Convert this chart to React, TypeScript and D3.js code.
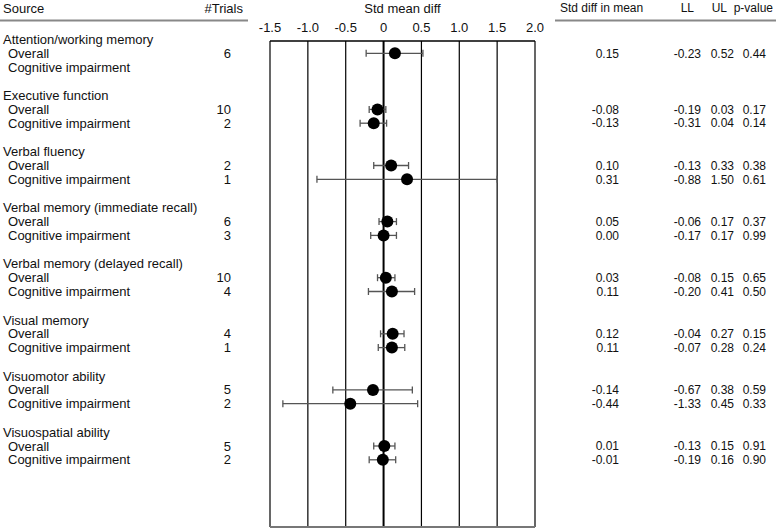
import React from "react";
import * as d3 from "d3";

const groups = [
  "Attention/working memory",
  "Executive function",
  "Verbal fluency",
  "Verbal memory (immediate recall)",
  "Verbal memory (delayed recall)",
  "Visual memory",
  "Visuomotor ability",
  "Visuospatial ability",
];
const subgroups = ["Overall", "Cognitive impairment"];

// per group: [Overall, Cognitive impairment]; null = no data
const trials: (number | null)[][] = [
  [6, null], [10, 2], [2, 1], [6, 3], [10, 4], [4, 1], [5, 2], [5, 2],
];
const smd: (number | null)[][] = [
  [0.15, null], [-0.08, -0.13], [0.10, 0.31], [0.05, 0.00],
  [0.03, 0.11], [0.12, 0.11], [-0.14, -0.44], [0.01, -0.01],
];
const lower: (number | null)[][] = [
  [-0.23, null], [-0.19, -0.31], [-0.13, -0.88], [-0.06, -0.17],
  [-0.08, -0.20], [-0.04, -0.07], [-0.67, -1.33], [-0.13, -0.19],
];
const upper: (number | null)[][] = [
  [0.52, null], [0.03, 0.04], [0.33, 1.50], [0.17, 0.17],
  [0.15, 0.41], [0.27, 0.28], [0.38, 0.45], [0.15, 0.16],
];
const pValues: (number | null)[][] = [
  [0.44, null], [0.17, 0.14], [0.38, 0.61], [0.37, 0.99],
  [0.65, 0.50], [0.15, 0.24], [0.59, 0.33], [0.91, 0.90],
];
const xTicks = [-1.5, -1.0, -0.5, 0, 0.5, 1.0, 1.5, 2.0];
const xTickLabels = ["-1.5", "-1.0", "-0.5", "0", "0.5", "1.0", "1.5", "2.0"];

const W = 776;
const H = 528;
const FONT = "Liberation Sans, Arial, sans-serif";
const FS = 13;
const FSR = 12;

export default function App() {
  const x = d3.scaleLinear().domain([-1.5, 2]).range([270, 535]);
  const gY = d3.scaleLinear().domain([0, 7]).range([53.3, 53.3 + 7 * 56.1]);
  const sub = 13.8;
  const axisY = 41;
  const bottomY = 527;
  const fmt = (v: number) => v.toFixed(2);

  const rows: React.ReactNode[] = [];
  groups.forEach((g, gi) => {
    const y0 = gY(gi);
    rows.push(
      <text key={"g" + gi} x={3} y={y0 - sub} dy="0.35em" fontSize={FS}>
        {g}
      </text>
    );
    subgroups.forEach((s, si) => {
      const y = y0 + si * sub;
      rows.push(
        <text key={`s${gi}-${si}`} x={8} y={y} dy="0.35em" fontSize={FS}>
          {s}
        </text>
      );
      const t = trials[gi][si];
      const m = smd[gi][si];
      const lo = lower[gi][si];
      const hi = upper[gi][si];
      const p = pValues[gi][si];
      if (t !== null) {
        rows.push(
          <text key={`t${gi}-${si}`} x={231} y={y} dy="0.35em" fontSize={FS} textAnchor="end">
            {t}
          </text>
        );
      }
      if (m !== null && lo !== null && hi !== null && p !== null) {
        rows.push(
          <g key={`v${gi}-${si}`} fontSize={FSR} textAnchor="end">
            <text x={619} y={y} dy="0.35em">{fmt(m)}</text>
            <text x={701} y={y} dy="0.35em">{fmt(lo)}</text>
            <text x={734} y={y} dy="0.35em">{fmt(hi)}</text>
            <text x={766} y={y} dy="0.35em">{fmt(p)}</text>
          </g>
        );
        rows.push(
          <g key={`e${gi}-${si}`} stroke="#555" strokeWidth={1.3}>
            <line x1={x(lo)} x2={x(hi)} y1={y} y2={y} />
            <line x1={x(lo)} x2={x(lo)} y1={y - 3.5} y2={y + 3.5} />
            <line x1={x(hi)} x2={x(hi)} y1={y - 3.5} y2={y + 3.5} />
          </g>
        );
        rows.push(<circle key={`c${gi}-${si}`} cx={x(m)} cy={y} r={6} fill="#000" />);
      }
    });
  });

  return (
    <svg
      width={W}
      height={H}
      style={{ position: "absolute", left: 0, top: 0, background: "#fff" }}
      fontFamily={FONT}
      fill="#111"
    >
      {/* headers */}
      <text x={3} y={8} dy="0.35em" fontSize={FS}>Source</text>
      <text x={243} y={8} dy="0.35em" fontSize={FS} textAnchor="end">#Trials</text>
      <text x={x(0.25)} y={8} dy="0.35em" fontSize={FS} textAnchor="middle">Std mean diff</text>
      <text x={560} y={8} dy="0.35em" fontSize={FSR}>Std diff in mean</text>
      <text x={694} y={8} dy="0.35em" fontSize={FSR} textAnchor="end">LL</text>
      <text x={727} y={8} dy="0.35em" fontSize={FSR} textAnchor="end">UL</text>
      <text x={773} y={8} dy="0.35em" fontSize={FSR} textAnchor="end">p-value</text>
      <line x1={0} x2={248} y1={20.5} y2={20.5} stroke="#888" strokeWidth={2} />
      <line x1={555} x2={776} y1={20.5} y2={20.5} stroke="#888" strokeWidth={2} />

      {/* axis */}
      {xTicks.map((t, i) => (
        <text key={"xt" + i} x={x(t)} y={27} dy="0.35em" fontSize={FS} textAnchor="middle">
          {xTickLabels[i]}
        </text>
      ))}
      <line x1={x(-1.5)} x2={x(2)} y1={axisY} y2={axisY} stroke="#000" strokeWidth={1.3} />
      {xTicks.map((t, i) => (
        <line
          key={"gl" + i}
          x1={x(t)}
          x2={x(t)}
          y1={axisY}
          y2={bottomY}
          stroke="#000"
          strokeWidth={t === 0 ? 2 : 1.2}
        />
      ))}
      <line x1={x(-1.5)} x2={x(2)} y1={bottomY} y2={bottomY} stroke="#777" strokeWidth={2} />

      {rows}
    </svg>
  );
}
